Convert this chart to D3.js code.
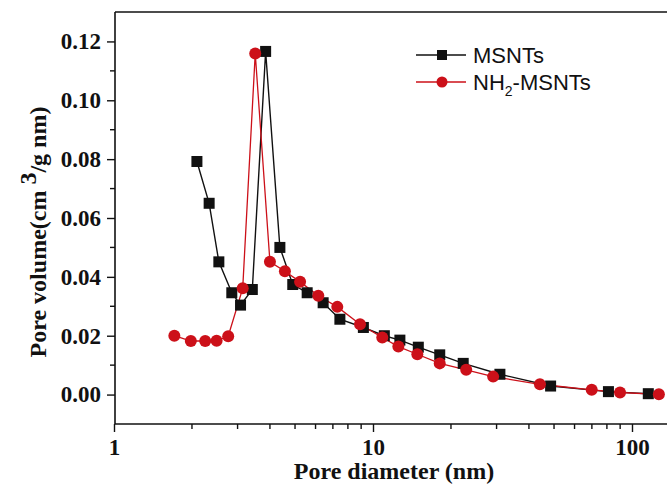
<!DOCTYPE html>
<html>
<head>
<meta charset="utf-8">
<script src="https://cdn.jsdelivr.net/npm/d3@7"></script>
<style>
  body { margin: 0; background: #fff; }
  #chart { width: 667px; height: 490px; }
</style>
</head>
<body>
<div id="chart"></div>
<script>
// MSNTs (black squares)
const msntsDiameter = [2.09, 2.33, 2.54, 2.85, 3.08, 3.42, 3.85, 4.37, 4.90, 5.57, 6.42, 7.45, 9.18, 11.06, 12.7, 14.96, 18.1, 22.3, 30.9, 48.5, 81.1, 115.6];
const msntsVolume = [0.0792, 0.065, 0.0451, 0.0346, 0.0304, 0.0357, 0.1166, 0.050, 0.0374, 0.0346, 0.0312, 0.0256, 0.0228, 0.0200, 0.0185, 0.0161, 0.0135, 0.0106, 0.0069, 0.0029, 0.0010, 0.0003];

// NH2-MSNTs (red circles)
const nh2Diameter = [1.71, 1.98, 2.25, 2.49, 2.76, 3.14, 3.51, 4.00, 4.57, 5.23, 6.15, 7.28, 8.91, 10.86, 12.53, 14.83, 18.1, 22.9, 29.1, 44.1, 69.9, 89.9, 127];
const nh2Volume = [0.0200, 0.0182, 0.0182, 0.0183, 0.0198, 0.0361, 0.1159, 0.0451, 0.0419, 0.0383, 0.0336, 0.0298, 0.0239, 0.0194, 0.0163, 0.0137, 0.0106, 0.0084, 0.0061, 0.0035, 0.0016, 0.0007, 0.0001];

const xTicks = [1, 10, 100];
const yTicks = [0.00, 0.02, 0.04, 0.06, 0.08, 0.10, 0.12];

const W = 667, H = 490;
const svg = d3.select("#chart").append("svg")
    .attr("width", W)
    .attr("height", H);

const plotLeft = 115, plotTop = 12, plotBottom = 424;
const serif = "'Liberation Serif', 'Times New Roman', serif";

const x = d3.scaleLog().domain([1, 150]).range([114, 114 + 259 * Math.log10(150)]);
const y = d3.scaleLinear().domain([-0.01, 0.13]).range([plotBottom, plotTop]);

const red = "#cc1019";
const black = "#111";

// frame top line
svg.append("line")
    .attr("x1", plotLeft).attr("x2", W).attr("y1", plotTop).attr("y2", plotTop)
    .attr("stroke", "#111").attr("stroke-width", 1.6);

// y axis
const yAxis = svg.append("g")
    .attr("transform", "translate(" + plotLeft + ",0)")
    .call(d3.axisLeft(y).tickValues(yTicks).tickFormat(d3.format(".2f")).tickSize(8).tickPadding(6));

const yMinor = [0.01, 0.03, 0.05, 0.07, 0.09, 0.11];
svg.append("g").selectAll("line").data(yMinor).enter().append("line")
    .attr("x1", plotLeft - 5).attr("x2", plotLeft)
    .attr("y1", d => y(d)).attr("y2", d => y(d))
    .attr("stroke", "#111").attr("stroke-width", 1.4);

// x axis
const xAxis = svg.append("g")
    .attr("transform", "translate(0," + plotBottom + ")")
    .call(d3.axisBottom(x).tickValues(xTicks).tickFormat(d3.format("d")).tickSize(8).tickPadding(7));

const xMinor = [];
[1, 10].forEach(dec => { for (let k = 2; k <= 9; k++) xMinor.push(dec * k); });
svg.append("g").selectAll("line").data(xMinor).enter().append("line")
    .attr("x1", d => x(d)).attr("x2", d => x(d))
    .attr("y1", plotBottom).attr("y2", plotBottom + 5)
    .attr("stroke", "#111").attr("stroke-width", 1.4);

[xAxis, yAxis].forEach(g => {
    g.select(".domain").attr("stroke", "#111").attr("stroke-width", 1.6);
    g.selectAll(".tick line").attr("stroke", "#111").attr("stroke-width", 1.4);
    g.selectAll(".tick text")
        .attr("fill", "#111")
        .style("font-family", serif)
        .style("font-weight", "bold")
        .style("font-size", "23px");
});
xAxis.select(".domain").attr("d", "M" + plotLeft + ",0H" + W);
yAxis.select(".domain").attr("d", "M0," + plotBottom + "V" + plotTop);

// axis titles
svg.append("text")
    .attr("x", 394).attr("y", 479)
    .attr("text-anchor", "middle")
    .style("font-family", serif)
    .style("font-weight", "bold")
    .style("font-size", "24px")
    .attr("fill", "#111")
    .text("Pore diameter (nm)");

const yt = svg.append("text")
    .attr("transform", "translate(46,232) rotate(-90)")
    .attr("text-anchor", "middle")
    .style("font-family", serif)
    .style("font-weight", "bold")
    .style("font-size", "24px")
    .attr("fill", "#111");
yt.append("tspan").text("Pore volume(cm ");
yt.append("tspan").attr("dy", -10).text("3");
yt.append("tspan").attr("dy", 10).text("/g nm)");

// series
const msnts = msntsDiameter.map((d, i) => [d, msntsVolume[i]]);
const nh2 = nh2Diameter.map((d, i) => [d, nh2Volume[i]]);
const line = d3.line().x(d => x(d[0])).y(d => y(d[1]));

svg.append("path").datum(msnts)
    .attr("d", line).attr("fill", "none")
    .attr("stroke", black).attr("stroke-width", 1.4);
svg.append("path").datum(nh2)
    .attr("d", line).attr("fill", "none")
    .attr("stroke", red).attr("stroke-width", 1.3);

const sq = 11;
svg.append("g").selectAll("rect").data(msnts).enter().append("rect")
    .attr("x", d => x(d[0]) - sq / 2)
    .attr("y", d => y(d[1]) - sq / 2)
    .attr("width", sq).attr("height", sq)
    .attr("fill", black);

svg.append("g").selectAll("circle").data(nh2).enter().append("circle")
    .attr("cx", d => x(d[0]))
    .attr("cy", d => y(d[1]))
    .attr("r", 6)
    .attr("fill", red);

// legend
const legend = svg.append("g");
const rows = [{ label: "MSNTs", color: black, shape: "square", yy: 55 }, { label: "NH2-MSNTs", color: red, shape: "circle", yy: 82 }];
rows.forEach(r => {
    legend.append("line")
        .attr("x1", 416).attr("x2", 466).attr("y1", r.yy).attr("y2", r.yy)
        .attr("stroke", r.color).attr("stroke-width", r.shape === "square" ? 1.5 : 1.3);
    if (r.shape === "square") {
        legend.append("rect").attr("x", 442 - 5).attr("y", r.yy - 5)
            .attr("width", 10).attr("height", 10).attr("fill", r.color);
    } else {
        legend.append("circle").attr("cx", 442).attr("cy", r.yy).attr("r", 5.5).attr("fill", r.color);
    }
    const t = legend.append("text")
        .attr("x", 473).attr("y", r.yy + 8)
        .style("font-family", "'Liberation Sans', Arial, sans-serif")
        .style("font-size", "22px")
        .attr("fill", "#111");
    if (r.label === "NH2-MSNTs") {
        t.append("tspan").text("NH");
        t.append("tspan").attr("dy", 6).style("font-size", "14px").text("2");
        t.append("tspan").attr("dy", -6).text("-MSNTs");
    } else {
        t.text(r.label);
    }
});
</script>
</body>
</html>
